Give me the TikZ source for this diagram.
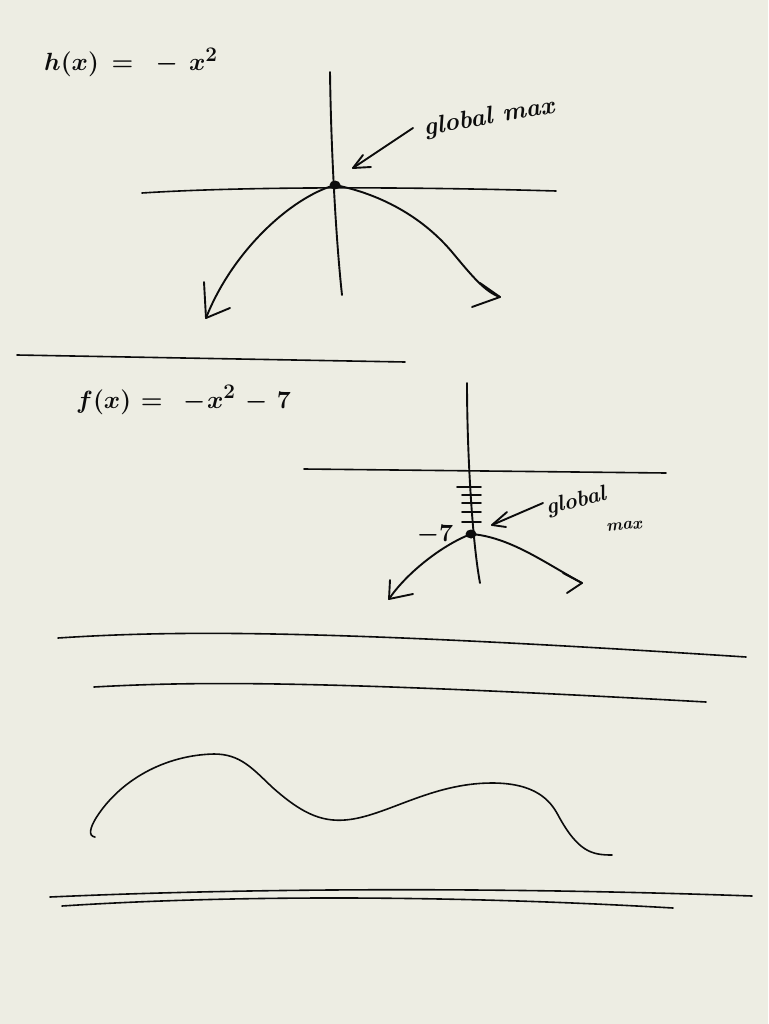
\documentclass[tikz,border=0pt]{standalone}
\usepackage{xcolor}
\usetikzlibrary{shapes.geometric}
\definecolor{paper}{RGB}{237,237,227}
\definecolor{ink}{RGB}{12,12,12}
\begin{document}
\begin{tikzpicture}[x=1pt,y=-1pt,
  inkline/.style={draw=ink,line width=1.9pt,line cap=round,line join=round},
  thinline/.style={draw=ink,line width=1.6pt,line cap=round,line join=round},
  hand/.style={text=ink,inner sep=0pt},
  bigdot/.style={fill=ink,ellipse,inner sep=0pt,minimum width=11pt,minimum height=9pt}]
\fill[paper] (0,0) rectangle (768,1024);
\useasboundingbox (0,0) rectangle (768,1024);

% ---------- h(x) ----------
\node[hand,anchor=base west,font=\fontsize{32}{36}\selectfont\boldmath] (hlabel) at (44,71) {$h(x)\mkern3mu=\mkern9mu-\mkern7mu x^{2}$};

\coordinate (v1top) at (330,72);
\coordinate (v1bot) at (342,295);
\draw[inkline] (v1top) .. controls (331,150) and (336,240) .. (v1bot);
\coordinate (h1l) at (142,193);
\coordinate (h1r) at (556,191);
\draw[thinline] (h1l) .. controls (250,186) and (420,187) .. (h1r);

\node[bigdot] (max1) at (335,185) {};
\coordinate (a1l) at (206,318);
\coordinate (a1r) at (500,297);
\draw[inkline] (max1.center) .. controls (290,198) and (232,252) .. (a1l);
\draw[inkline] (max1.center) .. controls (385,195) and (425,220) .. (452,252) .. controls (472,276) and (485,292) .. (a1r);
\draw[inkline] (204,282) -- (a1l) -- (230,308);
\draw[inkline] (480,283) -- (a1r) -- (472,307);

\node[hand,rotate=10,font=\bfseries\itshape\fontsize{25}{27}\selectfont] (gm1) at (489,118) {global max};
\coordinate (gm1s) at (413,128);
\coordinate (gm1t) at (353,168);
\draw[inkline] (gm1s) -- (gm1t);
\draw[inkline] (363,155) -- (gm1t) -- (371,167);

% separator
\coordinate (sepl) at (17,355);
\coordinate (sepr) at (405,362);
\draw[thinline] (sepl) -- (sepr);

% ---------- f(x) ----------
\node[hand,anchor=base west,font=\fontsize{30}{34}\selectfont\boldmath] (flabel) at (76,408) {$f(x)\mkern1mu=\mkern8mu-\mkern1mu x^{2}\mkern2mu-\mkern2mu 7$};

\coordinate (v2top) at (467,383);
\coordinate (v2bot) at (480,583);
\draw[inkline] (v2top) .. controls (467,450) and (472,540) .. (v2bot);
\coordinate (h2l) at (304,469);
\coordinate (h2r) at (666,473);
\draw[thinline] (h2l) -- (h2r);

\foreach \yy/\xa in {487/457,495/462,503/462,512/462,522/462}
  \draw[inkline] (\xa,\yy) -- (481,\yy);

\node[bigdot] (max2) at (471,534) {};
\coordinate (a2l) at (389,599);
\coordinate (a2r) at (582,583);
\draw[inkline] (max2.center) .. controls (440,546) and (405,575) .. (a2l);
\draw[inkline] (max2.center) .. controls (510,537) and (545,563) .. (a2r);
\draw[inkline] (390,580) -- (a2l) -- (413,594);
\draw[inkline] (563,573) -- (a2r) -- (567,593);

\node[hand,font=\fontsize{24}{26}\selectfont\boldmath] (m7) at (435,535) {$-7$};

\node[hand,rotate=14,font=\bfseries\itshape\fontsize{22}{24}\selectfont] (gm2) at (576,502) {global};
\node[hand,rotate=5,font=\bfseries\itshape\fontsize{17}{18}\selectfont] (gm2b) at (624,526) {max};
\coordinate (gm2s) at (543,503);
\coordinate (gm2t) at (492,525);
\draw[inkline] (gm2s) -- (gm2t);
\draw[inkline] (507,512) -- (gm2t) -- (506,527);

% ---------- long lines ----------
\coordinate (l1a) at (58,638);
\coordinate (l1b) at (746,657);
\draw[thinline] (l1a) .. controls (180,630) and (330,630) .. (l1b);
\coordinate (l2a) at (94,687);
\coordinate (l2b) at (706,702);
\draw[thinline] (l2a) .. controls (200,681) and (330,681) .. (l2b);

% wavy curve
\coordinate (w0) at (95,837);
\coordinate (w9) at (612,855);
\draw[thinline] (w0) .. controls (88,836) and (90,828) .. (96,818) .. controls (120,780) and (165,755) .. (214,754) .. controls (240,754) and (252,768) .. (272,787) .. controls (300,812) and (320,822) .. (345,820) .. controls (385,817) and (430,783) .. (492,783) .. controls (535,783) and (550,800) .. (558,815) .. controls (578,852) and (592,855) .. (w9);

% bottom lines
\coordinate (l3a) at (50,897);
\coordinate (l3b) at (752,896);
\draw[thinline] (l3a) .. controls (250,888) and (500,887) .. (l3b);
\coordinate (l4a) at (62,906);
\coordinate (l4b) at (673,908);
\draw[thinline] (l4a) .. controls (230,895) and (450,895) .. (l4b);
\end{tikzpicture}
\end{document}
